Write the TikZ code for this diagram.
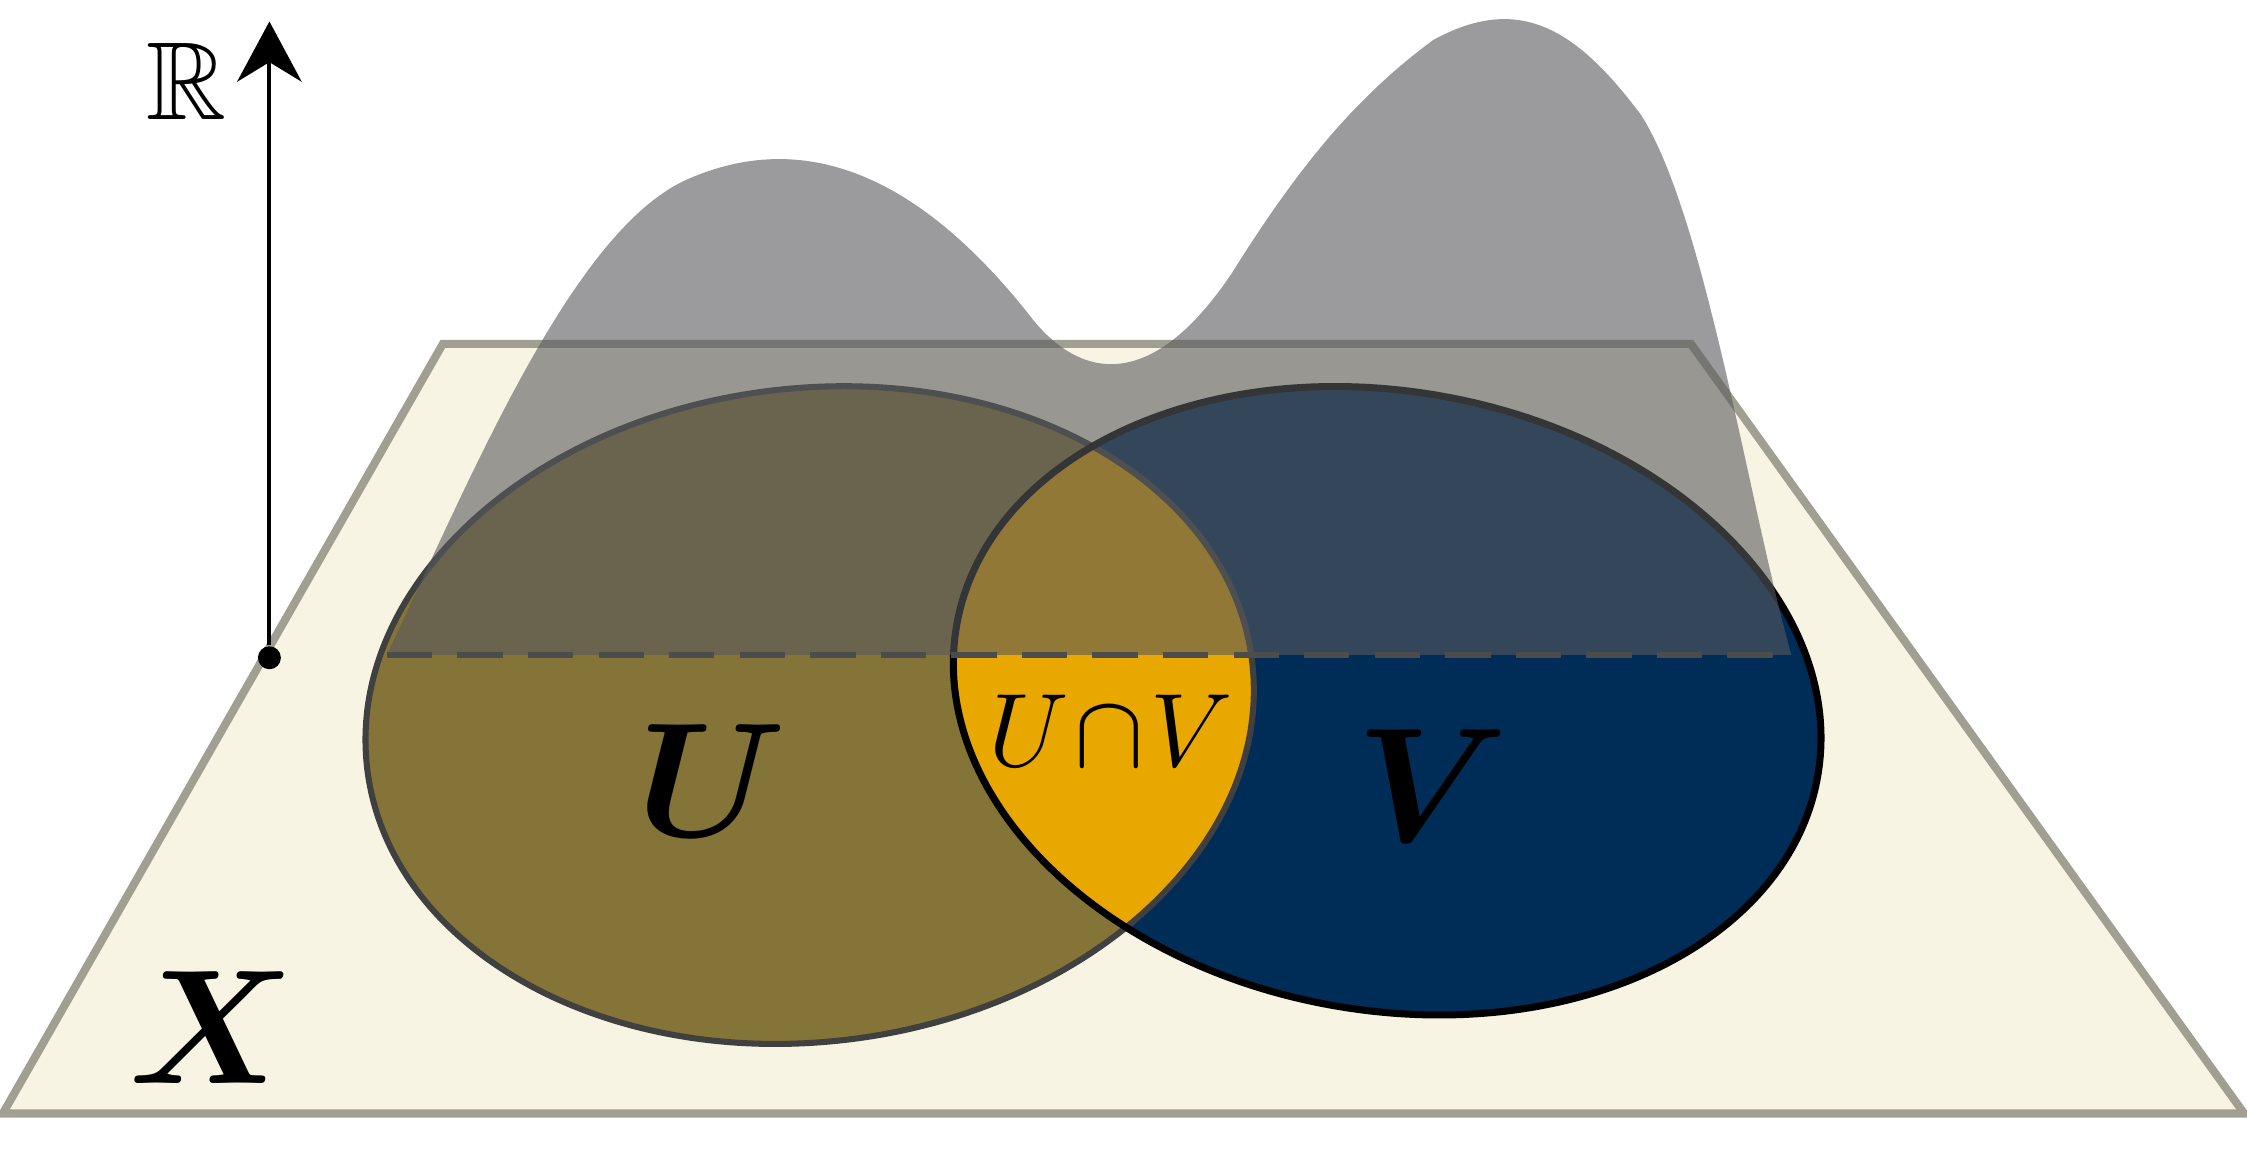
\documentclass[tikz,border=0pt]{standalone}
\usepackage{amssymb,bm}
\usetikzlibrary{arrows.meta}
\definecolor{planefill}{HTML}{F8F4E4}
\definecolor{planeline}{HTML}{A19F91}
\definecolor{olive}{HTML}{857437}
\definecolor{navy}{HTML}{002D57}
\definecolor{gold}{HTML}{E8A800}
\definecolor{bump}{HTML}{58595C}
\newcommand{\biglbl}[1]{\scalebox{1.3}{$\bm{#1}$}}
\tikzset{
  biglabel/.style={font=\fontsize{36}{40}\selectfont},
  dot/.style={circle,fill=black,inner sep=0pt,minimum size=0.16cm}
}
\begin{document}
\begin{tikzpicture}[x=0.01cm,y=-0.01cm]
\useasboundingbox (0,0) rectangle (1568,809);

% the plane X
\draw[line width=1.6pt,draw=planeline,fill=planefill]
  (2,777) -- (1566,777) -- (1180,240) -- (309,240) -- cycle;

% the two open sets
\fill[olive] (565,499) ellipse [x radius=311,y radius=228,rotate=7];
\fill[navy] (968,489) ellipse [x radius=305,y radius=216,rotate=-10];
\begin{scope}
  \clip (565,499) ellipse [x radius=311,y radius=228,rotate=7];
  \fill[gold] (968,489) ellipse [x radius=305,y radius=216,rotate=-10];
\end{scope}
\draw[line width=1.2pt,draw=black!75] (565,499) ellipse [x radius=311,y radius=228,rotate=7];
\draw[line width=1.4pt] (968,489) ellipse [x radius=305,y radius=216,rotate=-10];

% the graph over X
\fill[bump,opacity=0.6] (270,457) .. controls (330,330) and (400,160) .. (480,125)
  .. controls (560,90) and (640,120) .. (720,222)
  .. controls (750,260) and (800,280) .. (860,190)
  .. controls (910,110) and (950,65) .. (1000,28)
  .. controls (1060,-5) and (1100,20) .. (1145,80)
  .. controls (1190,150) and (1220,350) .. (1250,457) -- cycle;
\draw[line width=1.2pt,draw=black!70,dash pattern=on 9pt off 5pt]
  (270,457) -- (1250,457);

% the real axis
\node[dot] (base) at (188,459) {};
\coordinate (top) at (188,15);
\draw[line width=0.8pt,-{Stealth[length=0.42cm,width=0.45cm]}] (base) -- (top);
\node[font=\fontsize{22}{26}\selectfont] (R) at (130,57) {$\mathbb{R}$};

% labels
\node[biglabel] (U) at (497,545) {\biglbl{U}};
\node[biglabel] (V) at (1000,548) {\biglbl{V}};
\node[font=\fontsize{22}{26}\selectfont] (UV) at (775,510) {$U\!\cap\! V$};
\node[biglabel] (X) at (148,717) {\biglbl{X}};
\end{tikzpicture}
\end{document}
